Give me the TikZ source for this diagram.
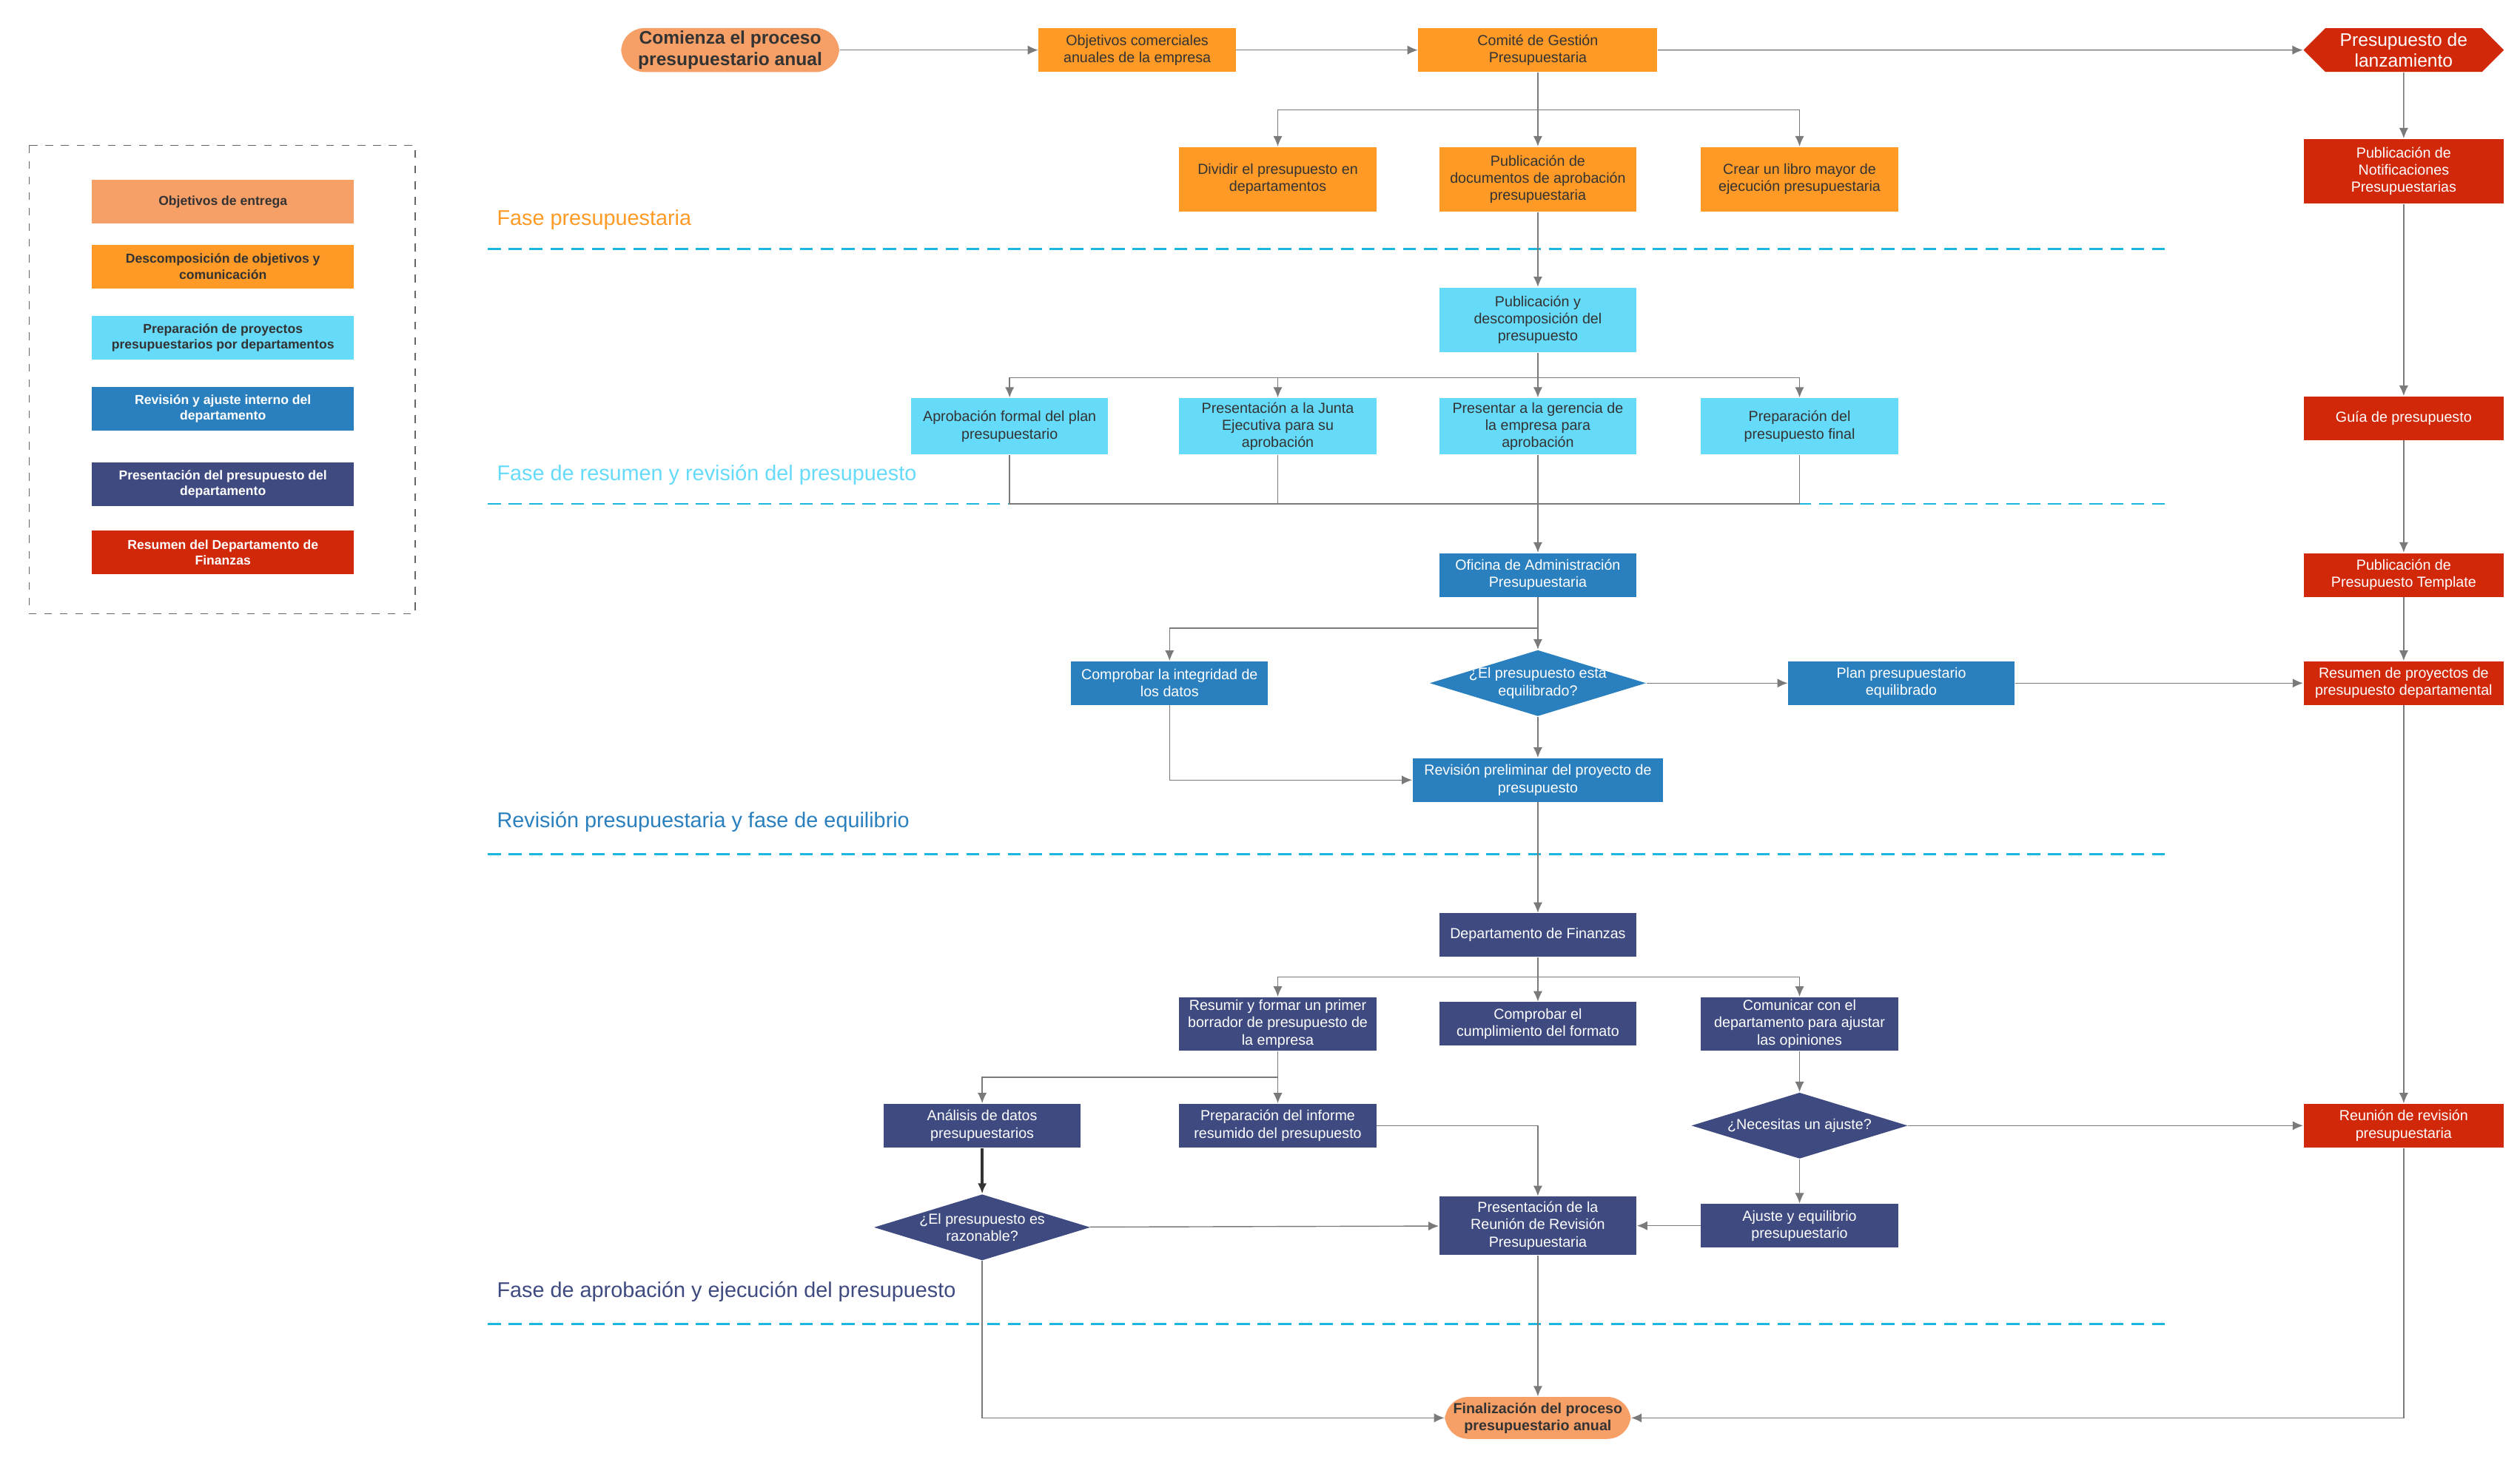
\documentclass[tikz,border=0pt]{standalone}
\usepackage{fontspec}
\setmainfont{Liberation Sans}
\usetikzlibrary{arrows.meta,shapes.geometric,shapes.symbols}
\tikzset{>={Latex[length=4,width=3.5]}}
\definecolor{cpeach}{HTML}{F6A068}
\definecolor{corange}{HTML}{FF9A26}
\definecolor{ccyan}{HTML}{66DAF9}
\definecolor{cblue}{HTML}{2A7FBE}
\definecolor{cnavy}{HTML}{3E4A80}
\definecolor{cred}{HTML}{D1280A}
\definecolor{cdash}{HTML}{1DB6DF}
\definecolor{cline}{HTML}{7A7A7A}
\def\u{0.02183cm}
\begin{document}
\begin{tikzpicture}[x=0.02183cm,y=-0.02183cm,
    box/.style 2 args={draw=none,align=center,inner sep=1pt,font=\fontsize{5.6}{6.6}\selectfont,
        minimum width=#1*\u,minimum height=#2*\u},
    org/.style={box={122}{27},fill=corange,text=black!80},
    cyn/.style={box={122}{35},fill=ccyan,text=black!80},
    blu/.style={box={122}{27},fill=cblue,text=white},
    nav/.style={box={122}{27},fill=cnavy,text=white},
    rd/.style={box={124}{27},fill=cred,text=white},
    term/.style={box={#1}{26},fill=cpeach,rounded corners=9pt,text=black!80,font=\bfseries\fontsize{5.6}{6.6}\selectfont},
    dia/.style={diamond,fill=#1,minimum width=134*\u,minimum height=41*\u,inner sep=0pt},
    dtxt/.style={align=center,text=white,font=\fontsize{5.6}{6.6}\selectfont},
    leg/.style={box={162}{27},font=\bfseries\fontsize{5}{6}\selectfont},
    phase/.style={anchor=south west,font=\fontsize{8.2}{10}\selectfont},
    sep/.style={cdash,dashed,dash pattern=on 5pt off 3pt,line width=0.8pt},
    arr/.style={->,cline,line width=0.4pt}]
    \useasboundingbox (0,0) rectangle (1560,905);

    % LEGEND
    \draw[black!60,dashed,line width=0.4pt] (18,90) rectangle (257,380);
    \node[leg,fill=cpeach,text=black!80] (l1) at (138,125) {Objetivos de entrega};
    \node[leg,fill=corange,text=black!80] (l2) at (138,165) {Descomposición de objetivos y\\comunicación};
    \node[leg,fill=ccyan,text=black!80] (l3) at (138,209) {Preparación de proyectos\\presupuestarios por departamentos};
    \node[leg,fill=cblue,text=white] (l4) at (138,253) {Revisión y ajuste interno del\\departamento};
    \node[leg,fill=cnavy,text=white] (l5) at (138,300) {Presentación del presupuesto del\\departamento};
    \node[leg,fill=cred,text=white] (l6) at (138,342) {Resumen del Departamento de\\Finanzas};

    % PHASES
    \node[phase,text=corange] (p1) at (302,148) {Fase presupuestaria};
    \draw[sep] (302,154) -- (1340,154);
    \node[phase,text=ccyan] (p2) at (302,306) {Fase de resumen y revisión del presupuesto};
    \draw[sep] (302,312) -- (1340,312);
    \node[phase,text=cblue] (p3) at (302,521) {Revisión presupuestaria y fase de equilibrio};
    \draw[sep] (302,529) -- (1340,529);
    \node[phase,text=cnavy] (p4) at (302,812) {Fase de aprobación y ejecución del presupuesto};
    \draw[sep] (302,820) -- (1340,820);

    % NODES
    \node[term=135,font=\bfseries\fontsize{7}{8.4}\selectfont] (start) at (452,31) {Comienza el proceso\\presupuestario anual};
    \node[org] (obj) at (704,31) {Objetivos comerciales\\anuales de la empresa};
    \node[org,box={148}{27}] (comite) at (952,31) {Comité de Gestión\\Presupuestaria};
    \node[signal,signal to=east and west,fill=cred,text=white,align=center,minimum width=124*\u,minimum height=27*\u,inner sep=1pt,font=\fontsize{7}{8.2}\selectfont] (lanz) at (1488,31) {Presupuesto de\\lanzamiento};
    \node[org,box={122}{40}] (div) at (791,111) {Dividir el presupuesto en\\departamentos};
    \node[org,box={122}{40}] (pub) at (952,111) {Publicación de\\documentos de aprobación\\presupuestaria};
    \node[org,box={122}{40}] (libro) at (1114,111) {Crear un libro mayor de\\ejecución presupuestaria};
    \node[rd,box={124}{40}] (notif) at (1488,106) {Publicación de\\Notificaciones\\Presupuestarias};
    \node[cyn,box={122}{40}] (pubdesc) at (952,198) {Publicación y\\descomposición del\\presupuesto};
    \node[cyn] (aprob) at (625,264) {Aprobación formal del plan\\presupuestario};
    \node[cyn] (junta) at (791,264) {Presentación a la Junta\\Ejecutiva para su\\aprobación};
    \node[cyn] (geren) at (952,264) {Presentar a la gerencia de\\la empresa para\\aprobación};
    \node[cyn] (final) at (1114,264) {Preparación del\\presupuesto final};
    \node[rd] (guia) at (1488,259) {Guía de presupuesto};
    \node[blu] (ofic) at (952,356) {Oficina de Administración\\Presupuestaria};
    \node[rd] (templ) at (1488,356) {Publicación de\\Presupuesto Template};
    \node[blu] (integ) at (724,423) {Comprobar la integridad de\\los datos};
    \node[dia=cblue] (equil) at (952,423) {};
    \node[dtxt] (equilT) at (equil) {¿El presupuesto está\\equilibrado?};
    \node[blu,box={140}{27}] (plan) at (1177,423) {Plan presupuestario\\equilibrado};
    \node[rd] (resproy) at (1488,423) {Resumen de proyectos de\\presupuesto departamental};
    \node[blu,box={155}{27}] (revpre) at (952,483) {Revisión preliminar del proyecto de\\presupuesto};
    \node[nav] (finan) at (952,579) {Departamento de Finanzas};
    \node[nav,box={122}{33}] (resum) at (791,634) {Resumir y formar un primer\\borrador de presupuesto de\\la empresa};
    \node[nav] (forma) at (952,634) {Comprobar el\\cumplimiento del formato};
    \node[nav,box={122}{33}] (comun) at (1114,634) {Comunicar con el\\departamento para ajustar\\las opiniones};
    \node[nav] (anali) at (608,697) {Análisis de datos\\presupuestarios};
    \node[nav] (inform) at (791,697) {Preparación del informe\\resumido del presupuesto};
    \node[dia=cnavy] (ajust) at (1114,697) {};
    \node[dtxt] (ajustT) at (ajust) {¿Necesitas un ajuste?};
    \node[rd] (reun) at (1488,697) {Reunión de revisión\\presupuestaria};
    \node[dia=cnavy] (razon) at (608,760) {};
    \node[dtxt] (razonT) at (razon) {¿El presupuesto es\\razonable?};
    \node[nav,box={122}{36}] (presre) at (952,759) {Presentación de la\\Reunión de Revisión\\Presupuestaria};
    \node[nav] (ajeq) at (1114,759) {Ajuste y equilibrio\\presupuestario};
    \node[term=115] (fin) at (952,878) {Finalización del proceso\\presupuestario anual};

    % CONNECTORS
    \draw[arr] (start) -- (obj);
    \draw[arr] (obj) -- (comite);
    \draw[arr] (comite) -- (lanz);
    \foreach \t in {div,pub,libro}
        \draw[arr] (comite.south) |- (952,68) -| (\t.north);
    \draw[arr] (pub) -- (pubdesc);
    \foreach \t in {aprob,junta,geren,final}
        \draw[arr] (pubdesc.south) |- (952,234) -| (\t.north);
    \foreach \s in {aprob,junta,final}
        \draw[cline,line width=0.4pt] (\s.south) |- (952,312);
    \draw[arr] (geren) -- (ofic);
    \draw[arr] (ofic.south) |- (952,389) -| (integ.north);
    \draw[arr] (ofic) -- (equil);
    \draw[arr] (equil) -- (plan);
    \draw[arr] (plan) -- (resproy);
    \draw[arr] (equil) -- (revpre);
    \draw[arr] (integ.south) |- (revpre.west);
    \draw[arr] (revpre) -- (finan);
    \foreach \t in {resum,forma,comun}
        \draw[arr] (finan.south) |- (952,605) -| (\t.north);
    \foreach \t in {anali,inform}
        \draw[arr] (resum.south) |- (791,667) -| (\t.north);
    \draw[->,black!80,line width=1.2pt] (anali) -- (razon);
    \draw[arr] (razon) -- (presre);
    \draw[arr] (inform.east) -| (presre.north);
    \draw[arr] (comun) -- (ajust);
    \draw[arr] (ajust) -- (reun);
    \draw[arr] (ajust) -- (ajeq);
    \draw[arr] (ajeq) -- (presre);
    \draw[arr] (razon.south) |- (fin.west);
    \draw[arr] (presre) -- (fin);
    \draw[arr] (lanz) -- (notif);
    \draw[arr] (notif) -- (guia);
    \draw[arr] (guia) -- (templ);
    \draw[arr] (templ) -- (resproy);
    \draw[arr] (resproy) -- (reun);
    \draw[arr] (reun.south) |- (fin.east);
\end{tikzpicture}
\end{document}
